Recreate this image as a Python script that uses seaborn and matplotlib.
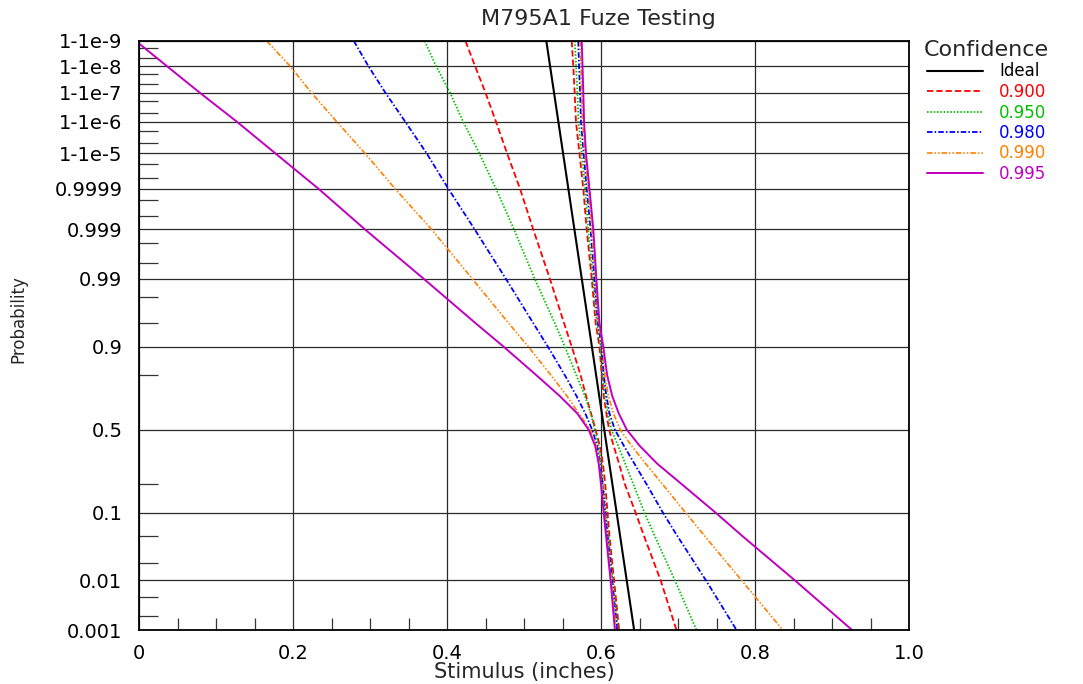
import math
import numpy as np
import pandas as pd
import matplotlib
matplotlib.use("Agg")
import matplotlib.pyplot as plt
from matplotlib.ticker import FixedLocator, FixedFormatter, NullFormatter
from matplotlib.lines import Line2D
import seaborn as sns

# ---------------- data ----------------
PROB = [1 - 1e-9, 1 - 1e-8, 1 - 1e-7, 1 - 1e-6, 1 - 1e-5, 0.9999, 0.999, 0.99,
        0.95, 0.9, 0.8, 0.7, 0.6, 0.5, 0.4, 0.3, 0.2, 0.1, 0.05, 0.01, 0.001]

# Ideal (straight line on probit paper): end points
IDEAL_PROB = [1 - 1e-9, 0.001]
IDEAL_X = [0.529, 0.643]

# lower (left) and upper (right) confidence bounds on stimulus
LOW_900 = [0.424, 0.4364, 0.450, 0.4636, 0.478, 0.4948, 0.512, 0.5337, 0.552, 0.562,
           0.5735, 0.5805, 0.587, 0.593, 0.5985, 0.6025, 0.6055, 0.6085, 0.611, 0.617, 0.6235]
UPP_900 = [0.562, 0.564, 0.5658, 0.5675, 0.572, 0.577, 0.5814, 0.588, 0.593, 0.598,
           0.601, 0.6035, 0.607, 0.6105, 0.6165, 0.6235, 0.631, 0.645, 0.656, 0.6775, 0.698]

LOW_950 = [0.371, 0.3857, 0.404, 0.421, 0.442, 0.4636, 0.487, 0.514, 0.540, 0.553,
           0.568, 0.579, 0.5866, 0.592, 0.597, 0.6005, 0.603, 0.6065, 0.6095, 0.6155, 0.622]
UPP_950 = [0.566, 0.5676, 0.5693, 0.5708, 0.5749, 0.5794, 0.5834, 0.5898, 0.5945, 0.5995,
           0.602, 0.605, 0.609, 0.6135, 0.6225, 0.6315, 0.642, 0.6565, 0.670, 0.696, 0.724]

LOW_980 = [0.279, 0.2978, 0.320, 0.3457, 0.3736, 0.4017, 0.436, 0.4766, 0.512, 0.531,
           0.553, 0.568, 0.5795, 0.5885, 0.595, 0.599, 0.602, 0.6055, 0.6085, 0.6145, 0.621]
UPP_980 = [0.5705, 0.5715, 0.5728, 0.574, 0.5775, 0.5815, 0.5865, 0.5915, 0.596, 0.601,
           0.6035, 0.607, 0.611, 0.618, 0.630, 0.6434, 0.6592, 0.6805, 0.6994, 0.7364, 0.776]

LOW_990 = [0.166, 0.196, 0.224, 0.2567, 0.2935, 0.3325, 0.380, 0.433, 0.480, 0.5056,
           0.535, 0.5555, 0.571, 0.586, 0.594, 0.598, 0.601, 0.6045, 0.6075, 0.6135, 0.6195]
UPP_990 = [0.5728, 0.574, 0.575, 0.576, 0.579, 0.5835, 0.588, 0.593, 0.597, 0.602,
           0.605, 0.6095, 0.616, 0.625, 0.640, 0.658, 0.680, 0.710, 0.735, 0.7827, 0.836]

LOW_995 = [-0.004, 0.036, 0.079, 0.127, 0.177, 0.233, 0.2935, 0.370, 0.437, 0.4735,
           0.516, 0.546, 0.569, 0.584, 0.5925, 0.597, 0.600, 0.6035, 0.6066, 0.6125, 0.618]
UPP_995 = [0.575, 0.576, 0.577, 0.578, 0.5805, 0.585, 0.590, 0.594, 0.598, 0.603,
           0.608, 0.6145, 0.623, 0.6335, 0.6506, 0.673, 0.705, 0.749, 0.784, 0.852, 0.926]

CONF_LABELS = ["0.900", "0.950", "0.980", "0.990", "0.995"]
LOWER = [LOW_900, LOW_950, LOW_980, LOW_990, LOW_995]
UPPER = [UPP_900, UPP_950, UPP_980, UPP_990, UPP_995]

Y_TICKS = [0.001, 0.01, 0.1, 0.5, 0.9, 0.99, 0.999, 0.9999,
           1 - 1e-5, 1 - 1e-6, 1 - 1e-7, 1 - 1e-8, 1 - 1e-9]
Y_TICK_LABELS = ["0.001", "0.01", "0.1", "0.5", "0.9", "0.99", "0.999", "0.9999",
                 "1-1e-5", "1-1e-6", "1-1e-7", "1-1e-8", "1-1e-9"]
Y_MINOR = [0.002, 0.005, 0.02, 0.05, 0.2, 0.8, 0.95, 0.98, 0.995, 0.998, 0.9995, 0.9998,
           1 - 5e-5, 1 - 2e-5, 1 - 5e-6, 1 - 2e-6, 1 - 5e-7, 1 - 2e-7,
           1 - 5e-8, 1 - 2e-8, 1 - 5e-9, 1 - 2e-9]
X_TICKS = [0.0, 0.2, 0.4, 0.6, 0.8, 1.0]
X_TICK_LABELS = ["0", "0.2", "0.4", "0.6", "0.8", "1.0"]
X_MINOR = [0.05, 0.1, 0.15, 0.25, 0.3, 0.35, 0.45, 0.5, 0.55,
           0.65, 0.7, 0.75, 0.85, 0.9, 0.95]

# ---------------- styles ----------------
COLORS = {"Ideal": "#000000", "0.900": "#FF0000", "0.950": "#00C000",
          "0.980": "#0000FF", "0.990": "#FF8000", "0.995": "#C000C0"}
STYLES = {"Ideal": "-", "0.900": (0, (4.5, 2.2)), "0.950": (0, (1.1, 1.3)),
          "0.980": (0, (4.0, 1.5, 1.1, 1.5)),
          "0.990": (0, (4.0, 1.4, 1.1, 1.4, 1.1, 1.4)), "0.995": "-"}
WIDTHS = {"Ideal": 1.5, "0.900": 1.3, "0.950": 1.3, "0.980": 1.3, "0.990": 1.2, "0.995": 1.4}


# ---------------- normal probability scale ----------------
_A = [-3.969683028665376e+01, 2.209460984245205e+02, -2.759285104469687e+02,
      1.383577518672690e+02, -3.066479806614716e+01, 2.506628277459239e+00]
_B = [-5.447609879822406e+01, 1.615858368580409e+02, -1.556989798598866e+02,
      6.680131188771972e+01, -1.328068155288572e+01]
_C = [-7.784894002430293e-03, -3.223964580411365e-01, -2.400758277161838e+00,
      -2.549732539343734e+00, 4.374664141464968e+00, 2.938163982698783e+00]
_D = [7.784695709041462e-03, 3.224671290700398e-01, 2.445134137142996e+00,
      3.754408661907416e+00]


def _tail(q):
    num = ((((_C[0] * q + _C[1]) * q + _C[2]) * q + _C[3]) * q + _C[4]) * q + _C[5]
    den = (((_D[0] * q + _D[1]) * q + _D[2]) * q + _D[3]) * q + 1.0
    return num / den


def probit(p):
    p = np.clip(np.asarray(p, dtype=float), 1e-300, 1 - 1e-16)
    out = np.empty_like(p)
    with np.errstate(all="ignore"):
        lo = p < 0.02425
        hi = p > 1 - 0.02425
        mid = ~(lo | hi)
        q = p[mid] - 0.5
        r = q * q
        num = (((((_A[0] * r + _A[1]) * r + _A[2]) * r + _A[3]) * r + _A[4]) * r + _A[5]) * q
        den = ((((_B[0] * r + _B[1]) * r + _B[2]) * r + _B[3]) * r + _B[4]) * r + 1.0
        out[mid] = num / den
        out[lo] = _tail(np.sqrt(-2.0 * np.log(p[lo])))
        out[hi] = -_tail(np.sqrt(-2.0 * np.log(1.0 - p[hi])))
    return out


_erfc = np.vectorize(math.erfc, otypes=[float])


def norm_cdf(z):
    z = np.asarray(z, dtype=float)
    return 0.5 * _erfc(-z / math.sqrt(2.0))


# ---------------- figure ----------------
sns.set_theme(style="white")
plt.rcParams["font.family"] = ["DejaVu Sans"]
plt.rcParams["lines.scale_dashes"] = False

fig = plt.figure(figsize=(10.83, 6.84), dpi=100)
ax = fig.add_axes([139 / 1083, 1 - 630 / 684, 770 / 1083, 589 / 684])

rows = []
for lab, lo, up in zip(CONF_LABELS, LOWER, UPPER):
    for bound, xs in (("lower", lo), ("upper", up)):
        for p, x in zip(PROB, xs):
            rows.append({"series": lab, "bound": bound, "prob": p, "stimulus": x})
df = pd.DataFrame(rows)
ideal_df = pd.DataFrame({"prob": IDEAL_PROB, "stimulus": IDEAL_X})

sns.lineplot(data=ideal_df, x="stimulus", y="prob", sort=False, estimator=None,
             color=COLORS["Ideal"], linestyle=STYLES["Ideal"], lw=WIDTHS["Ideal"], ax=ax)
for lab in CONF_LABELS:
    for bound in ("lower", "upper"):
        sub = df[(df["series"] == lab) & (df["bound"] == bound)]
        sns.lineplot(data=sub, x="stimulus", y="prob", sort=False, estimator=None,
                     color=COLORS[lab], linestyle=STYLES[lab], lw=WIDTHS[lab], ax=ax)

ax.set_yscale("function", functions=(probit, norm_cdf))
ax.set_xlim(0, 1.0)
ax.set_ylim(0.001, 1 - 1e-9)

ax.yaxis.set_major_locator(FixedLocator(Y_TICKS))
ax.yaxis.set_major_formatter(FixedFormatter(Y_TICK_LABELS))
ax.yaxis.set_minor_locator(FixedLocator(Y_MINOR))
ax.yaxis.set_minor_formatter(NullFormatter())
ax.xaxis.set_major_locator(FixedLocator(X_TICKS))
ax.xaxis.set_major_formatter(FixedFormatter(X_TICK_LABELS))
ax.xaxis.set_minor_locator(FixedLocator(X_MINOR))
ax.xaxis.set_minor_formatter(NullFormatter())

ax.grid(True, which="major", color="#2a2a2a", lw=0.9)
ax.set_axisbelow(True)
ax.tick_params(axis="both", which="major", length=0, labelsize=14, colors="black")
ax.tick_params(axis="y", which="major", pad=12)
ax.tick_params(axis="x", which="major", pad=10)
ax.tick_params(axis="y", which="minor", direction="in", length=13.5, width=0.9,
               color="#333333", left=True)
ax.tick_params(axis="x", which="minor", direction="in", length=8.5, width=0.9,
               color="#333333", bottom=True)
for s in ax.spines.values():
    s.set_color("black")
    s.set_linewidth(1.3)

ax.set_xlabel("Stimulus (inches)", fontsize=15, va="center")
ax.xaxis.set_label_coords(0.5, (630 - 672) / 589)
ax.set_ylabel("Probability", fontsize=12, va="center")
ax.yaxis.set_label_coords((18 - 139) / 770, (630 - 319) / 589)

fig.text(598 / 1083, 1 - 19 / 684, "M795A1 Fuze Testing", fontsize=16,
         ha="center", va="center")

handles = [Line2D([], [], color=COLORS[k], linestyle=STYLES[k], lw=WIDTHS[k])
           for k in ["Ideal"] + CONF_LABELS]
leg = ax.legend(handles, ["Ideal"] + CONF_LABELS, title="Confidence",
                loc="upper left", bbox_to_anchor=(924 / 1083, 1 - 40 / 684),
                bbox_transform=fig.transFigure, frameon=False, fontsize=12,
                title_fontsize=16, handlelength=3.35, handletextpad=1.0,
                labelspacing=0.15, borderpad=0, borderaxespad=0,
                labelcolor="linecolor")

fig.savefig("out.png", dpi=100)
